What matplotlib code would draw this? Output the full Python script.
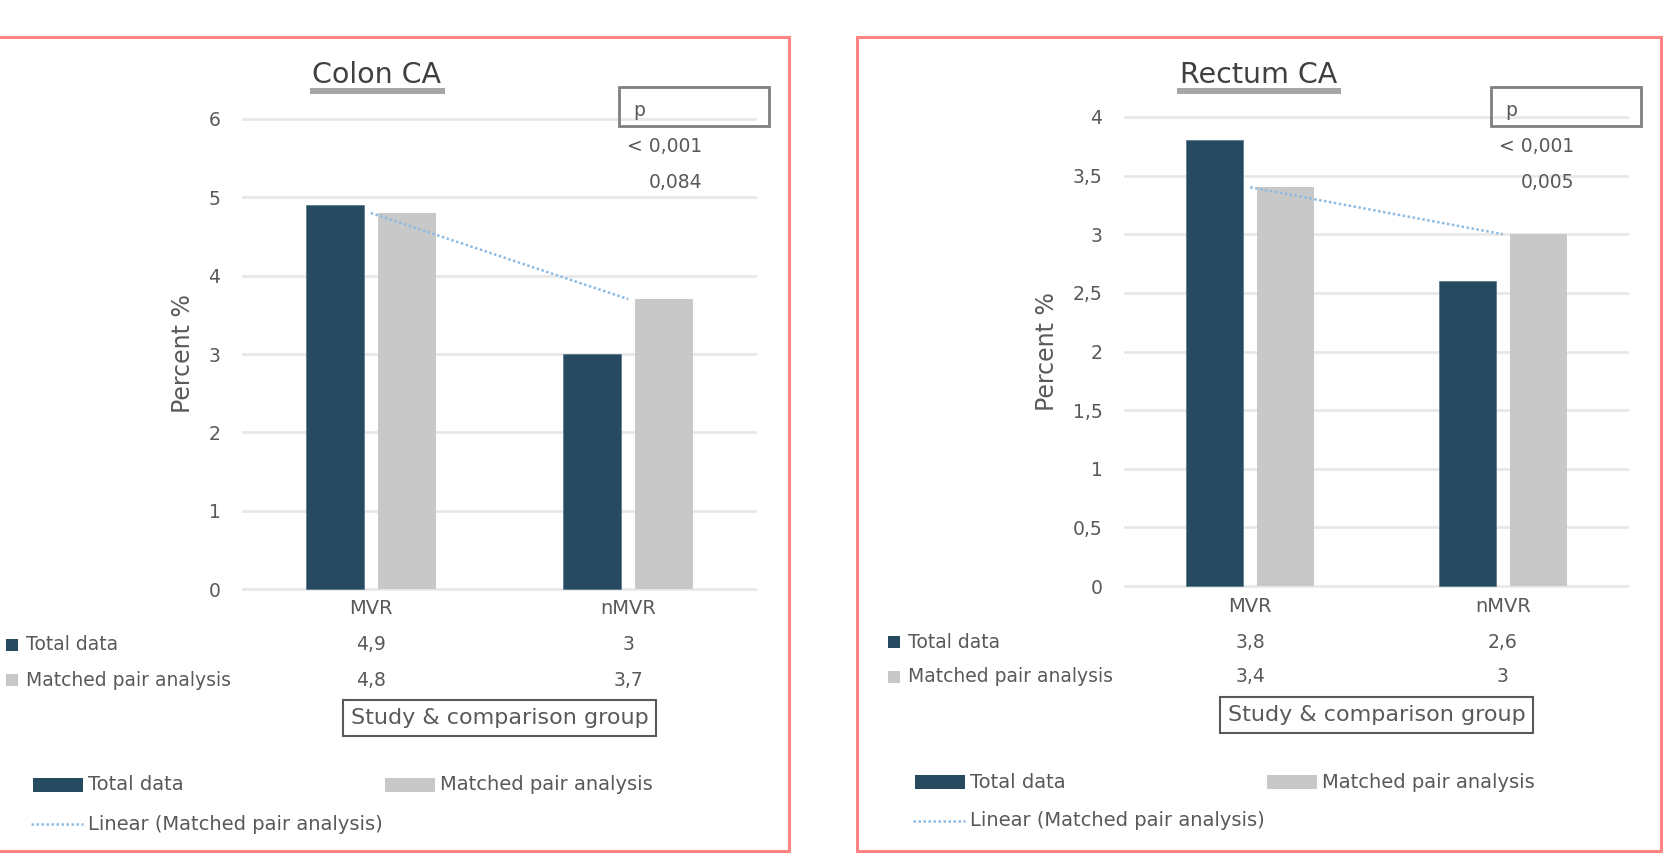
import numpy as np
import matplotlib
matplotlib.use('Agg')
import matplotlib.pyplot as plt
from matplotlib.patches import Rectangle
from matplotlib.lines import Line2D
from matplotlib.transforms import blended_transform_factory

# data
groups = ['MVR', 'nMVR']
colon_total = [4.9, 3.0]
colon_matched = [4.8, 3.7]
colon_p = ['< 0,001', '0,084']
colon_yticks = [0, 1, 2, 3, 4, 5, 6]
rectum_total = [3.8, 2.6]
rectum_matched = [3.4, 3.0]
rectum_p = ['< 0,001', '0,005']
rectum_yticks = [0, 0.5, 1, 1.5, 2, 2.5, 3, 3.5, 4]

W, H = 1663, 864
DARK = '#264b61'
LIGHT = '#c8c8c8'
TREND = '#8dbbe2'
TXT = '#595959'
PINK = '#ff8585'

fig = plt.figure(figsize=(W / 100, H / 100), dpi=100)


def fx(x):
    return x / W


def fy(y):
    # y measured from the top of the figure, in pixels
    return 1 - y / H


def comma(v):
    return ('%g' % v).replace('.', ',')


def fig_rect(x0, y0, x1, y1, **kw):
    r = Rectangle((fx(x0), fy(y1)), (x1 - x0) / W, (y1 - y0) / H,
                  transform=fig.transFigure, **kw)
    fig.add_artist(r)
    return r


def panel(left, top, right, bottom, title, total, matched, pvals, yticks):
    ax = fig.add_axes([fx(left), fy(bottom), (right - left) / W, (bottom - top) / H])
    x = np.arange(len(groups))
    ax.bar(x - 0.14, total, 0.225, color=DARK, edgecolor='#5d7d90', lw=0.6, zorder=2)
    ax.bar(x + 0.14, matched, 0.225, color=LIGHT, zorder=2)

    # linear trend of the matched pair series
    k, b = np.polyfit(x, matched, 1)
    ax.plot(x, k * x + b, color=TREND, lw=1.8, ls=(0, (1, 1)), zorder=3)

    span = yticks[-1] - yticks[0]
    ax.set_xlim(-0.5, len(groups) - 0.5)
    ax.set_ylim(yticks[0] - span * 0.004, yticks[-1] + span * 0.004)
    ax.set_yticks(yticks)
    ax.set_yticklabels([comma(t) for t in yticks])
    ax.set_xticks([])
    ax.yaxis.grid(True, color='#e8e8e8', lw=2)
    ax.set_axisbelow(True)
    for s in ax.spines.values():
        s.set_visible(False)
    ax.tick_params(axis='y', length=0, pad=15.5, labelsize=13.5, labelcolor=TXT)
    ax.set_ylabel('Percent %', fontsize=17, color=TXT, labelpad=10)

    # data table under the bars
    tr = blended_transform_factory(ax.transData, fig.transFigure)
    for i, g in enumerate(groups):
        ax.text(i, fy(bottom + 18), g, transform=tr, ha='center', va='center',
                fontsize=14, color=TXT)
        ax.text(i, fy(bottom + 54), comma(total[i]), transform=tr, ha='center',
                va='center', fontsize=13.5, color=TXT)
        ax.text(i, fy(bottom + 89), comma(matched[i]), transform=tr, ha='center',
                va='center', fontsize=13.5, color=TXT)
    for row, (name, col) in enumerate([('Total data', DARK),
                                        ('Matched pair analysis', LIGHT)]):
        yc = bottom + 54 + row * 35
        fig_rect(left - 236, yc - 6, left - 224, yc + 6, color=col, lw=0)
        fig.text(fx(left - 216), fy(yc), name, va='center', fontsize=13.5, color=TXT)

    fig.text(fx((left + right) / 2), fy(bottom + 127), 'Study & comparison group',
             ha='center', va='center', fontsize=16, color=TXT,
             bbox=dict(boxstyle='square,pad=0.35', fc='white', ec='#595959', lw=1.5))

    # title with underline bar
    t = fig.text(fx(left + 135), fy(75), title, ha='center', va='center',
                 fontsize=20.5, color='#404040')
    bb = t.get_window_extent(fig.canvas.get_renderer())
    fig_rect(bb.x0 - 3, 88, bb.x1 + 3, 94, color='#a6a6a6', lw=0)

    # p value box
    fig_rect(right - 138, 87, right + 12, 126, fill=False, ec='#7f7f7f', lw=2)
    fig.text(fx(right - 124), fy(111), 'p', va='center', fontsize=13.5, color=TXT)
    fig.text(fx(right - 55), fy(147), pvals[0], ha='right', va='center',
             fontsize=13.5, color=TXT)
    fig.text(fx(right - 55), fy(182), pvals[1], ha='right', va='center',
             fontsize=13.5, color=TXT)

    # legend
    y1, y2 = bottom + 194, bottom + 233
    fig_rect(left - 209, y1 - 7, left - 159, y1 + 7, color=DARK, lw=0)
    fig.text(fx(left - 154), fy(y1), 'Total data', va='center', fontsize=14, color=TXT)
    fig_rect(left + 143, y1 - 7, left + 193, y1 + 7, color=LIGHT, lw=0)
    fig.text(fx(left + 198), fy(y1), 'Matched pair analysis', va='center',
             fontsize=14, color=TXT)
    fig.add_artist(Line2D([fx(left - 211), fx(left - 159)], [fy(y2), fy(y2)],
                          transform=fig.transFigure, color=TREND, lw=1.8,
                          ls=(0, (1, 1))))
    fig.text(fx(left - 154), fy(y2), 'Linear (Matched pair analysis)', va='center',
             fontsize=14, color=TXT)

    # panel frame
    fig_rect(left - 267, 37, right + 32, 851, fill=False, ec=PINK, lw=2.2)
    return ax


panel(242, 117, 757, 591, 'Colon CA', colon_total, colon_matched, colon_p, colon_yticks)
panel(1124, 115, 1629, 588, 'Rectum CA', rectum_total, rectum_matched, rectum_p,
      rectum_yticks)

fig.savefig('out.png', dpi=100)
